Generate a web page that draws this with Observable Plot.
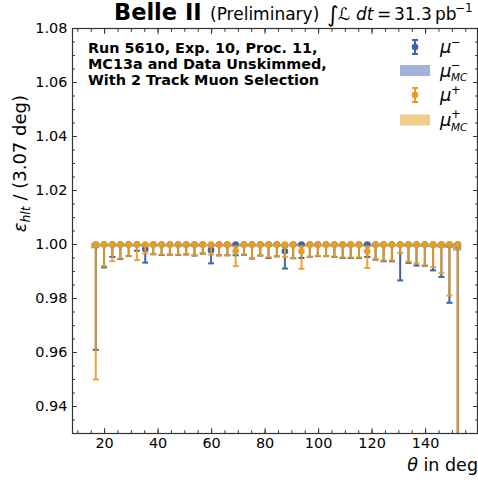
<!DOCTYPE html>
<html><head><meta charset="utf-8">
<script src="https://cdn.jsdelivr.net/npm/d3@7"></script>
<script src="https://cdn.jsdelivr.net/npm/@observablehq/plot@0.6"></script>
<style>
html,body{margin:0;padding:0;background:#fff;}
#chart{position:relative;width:478px;height:482px;overflow:hidden;}
</style></head><body><div id="chart"></div>
<script>
// bin centres (deg), bin width 3.07 deg
const theta = [16.7,19.8,22.9,25.9,29.0,32.1,35.2,38.2,41.3,44.4,47.5,50.5,53.6,56.7,59.8,62.8,65.9,69.0,72.1,75.1,78.2,81.3,84.4,87.4,90.5,93.6,96.7,99.7,102.8,105.9,109.0,112.0,115.1,118.2,121.3,124.3,127.4,130.5,133.6,136.6,139.7,142.8,145.9,148.9,152.0];
const binWidth = 3.07;

// mu- data: efficiency, lower and upper error-bar ends
const muMinus   = [1,1,1,1,1,1,0.9983,1,1,1, 1,1,1,1,0.9979,1,1,1,1,1, 1,1,1,0.9975,1,1,1,1,1,1, 1,1,1,1,1,1,1,1,1,1, 1,1,1,1,1];
const muMinusLo = [0.9610,0.9915,0.9954,0.9946,0.9957,0.9977,0.9933,0.9964,0.9961,0.9962, 0.9961,0.9963,0.9959,0.9966,0.9930,0.9960,0.9960,0.9960,0.9962,0.9948, 0.9959,0.9950,0.9956,0.9911,0.9949,0.9950,0.9954,0.9957,0.9957,0.9954, 0.9950,0.9950,0.9950,0.9954,0.9944,0.9938,0.9938,0.9867,0.9932,0.9922, 0.9921,0.9904,0.9880,0.9784,0.8500];
const muMinusHi = [1,1,1,1,1,1,0.9996,1,1,1, 1,1,1,1,0.9994,1,1,1,1,1, 1,1,1,0.9992,1,1,1,1,1,1, 1,1,1,1,1,1,1,1,1,1, 1,1,1,1,1];

// mu+ data
const muPlus   = [1,1,1,1,1,1,1,1,1,1, 1,1,1,1,1,1,1,0.9976,1,1, 1,1,1,1,1,0.9975,1,1,1,1, 1,1,1,0.9975,1,1,1,1,1,1, 1,1,1,1,1];
const muPlusLo = [0.9500,0.9920,0.9938,0.9948,0.9957,0.9942,0.9967,0.9964,0.9962,0.9963, 0.9962,0.9964,0.9961,0.9967,0.9963,0.9959,0.9960,0.9920,0.9963,0.9950, 0.9960,0.9953,0.9957,0.9954,0.9950,0.9910,0.9955,0.9958,0.9957,0.9955, 0.9952,0.9952,0.9952,0.9913,0.9946,0.9941,0.9941,0.9969,0.9936,0.9930, 0.9923,0.9916,0.9895,0.9811,0.8500];
const muPlusHi = [1,1,1,1,1,1,1,1,1,1, 1,1,1,1,1,1,1,0.9993,1,1, 1,1,1,1,1,0.9993,1,1,1,1, 1,1,1,0.9993,1,1,1,1,1,1, 1,1,1,1,1];

// MC efficiencies and uncertainties
const mcMinus    = [0.9993,0.9996,0.9996,0.9996,0.9996,0.9996,0.9996,0.9996,0.9996,0.9996, 0.9996,0.9996,0.9996,0.9996,0.9996,0.9996,0.9996,0.9996,0.9996,0.9996, 0.9996,0.9996,0.9996,0.9996,0.9996,0.9996,0.9996,0.9996,0.9996,0.9996, 0.9996,0.9996,0.9996,0.9996,0.9996,0.9996,0.9996,0.9996,0.9996,0.9996, 0.9995,0.9995,0.9994,0.9993,0.9989];
const mcMinusErr = [0.0009,0.0005,0.0005,0.0005,0.0005,0.0005,0.0005,0.0005,0.0005,0.0005, 0.0005,0.0005,0.0005,0.0005,0.0005,0.0005,0.0005,0.0005,0.0005,0.0005, 0.0005,0.0005,0.0005,0.0005,0.0005,0.0005,0.0005,0.0005,0.0005,0.0005, 0.0005,0.0005,0.0005,0.0005,0.0005,0.0005,0.0005,0.0005,0.0005,0.0005, 0.0006,0.0007,0.0007,0.0008,0.0014];
const mcPlus     = [0.9994,0.9996,0.9996,0.9996,0.9996,0.9996,0.9996,0.9996,0.9996,0.9996, 0.9996,0.9996,0.9996,0.9996,0.9996,0.9996,0.9996,0.9996,0.9996,0.9996, 0.9996,0.9996,0.9996,0.9996,0.9996,0.9996,0.9996,0.9996,0.9996,0.9996, 0.9996,0.9996,0.9996,0.9996,0.9996,0.9996,0.9996,0.9996,0.9996,0.9996, 0.9995,0.9995,0.9994,0.9993,0.9990];
const mcPlusErr  = [0.0009,0.0005,0.0005,0.0005,0.0005,0.0005,0.0005,0.0005,0.0005,0.0005, 0.0005,0.0005,0.0005,0.0005,0.0005,0.0005,0.0005,0.0005,0.0005,0.0005, 0.0005,0.0005,0.0005,0.0005,0.0005,0.0005,0.0005,0.0005,0.0005,0.0005, 0.0005,0.0005,0.0005,0.0005,0.0005,0.0005,0.0005,0.0005,0.0005,0.0005, 0.0006,0.0007,0.0007,0.0008,0.0013];

const xTicks = [20,40,60,80,100,120,140];
const yTicks = [0.94,0.96,0.98,1.00,1.02,1.04,1.06,1.08];
const annotation = ["Run 5610, Exp. 10, Proc. 11,", "MC13a and Data Unskimmed,", "With 2 Track Muon Selection"];

const blue = "#3f62ac", orange = "#e69d22", mcBlue = "#4a66b0", mcOrange = "#e39b1b";
const axisColor = "#333";
const FONT = "DejaVu Sans, sans-serif";

const rows = theta.map((t, i) => ({
  theta: t,
  mm: muMinus[i], mmLo: muMinusLo[i], mmHi: muMinusHi[i],
  mp: muPlus[i], mpLo: muPlusLo[i], mpHi: muPlusHi[i],
  mcm: mcMinus[i], mcmE: mcMinusErr[i],
  mcp: mcPlus[i], mcpE: mcPlusErr[i]
}));

const capSymbol = {draw(ctx, size) { const r = Math.sqrt(size / Math.PI); ctx.moveTo(-r, 0); ctx.lineTo(r, 0); }};
const minorX = d3.range(10, 160, 5);
const minorY = d3.range(0, 31).map(i => 0.93 + i * 0.005);
const noText = () => "";

function errBars(lo, hi, val, color, op) {
  return [
    Plot.ruleX(rows, {x: "theta", y1: lo, y2: hi, stroke: color, strokeWidth: 2, strokeOpacity: op, clip: true}),
    Plot.dot(rows, {x: "theta", y: lo, symbol: capSymbol, r: 3, stroke: color, strokeWidth: 2, strokeOpacity: op, fill: "none", clip: true}),
    Plot.dot(rows, {x: "theta", y: hi, symbol: capSymbol, r: 3, stroke: color, strokeWidth: 2, strokeOpacity: op, fill: "none", clip: true}),
    Plot.dot(rows, {x: "theta", y: val, r: 3.3, fill: color, stroke: "none", clip: true})
  ];
}

const plot = Plot.plot({
  width: 478, height: 482,
  marginLeft: 72, marginRight: 1, marginTop: 28, marginBottom: 49,
  style: {fontFamily: FONT, fontSize: "14.4px", background: "white", color: "#000"},
  x: {domain: [8, 159.4], axis: null},
  y: {domain: [0.93, 1.08], axis: null},
  marks: [
    Plot.rect(rows, {x1: d => d.theta - binWidth / 2, x2: d => d.theta + binWidth / 2, y1: d => d.mcm - d.mcmE, y2: d => d.mcm + d.mcmE, fill: mcBlue, fillOpacity: 0.5, clip: true}),
    Plot.rect(rows, {x1: d => d.theta - binWidth / 2, x2: d => d.theta + binWidth / 2, y1: d => d.mcp - d.mcpE, y2: d => d.mcp + d.mcpE, fill: mcOrange, fillOpacity: 0.5, clip: true}),
    ...errBars("mmLo", "mmHi", "mm", blue, 1),
    ...errBars("mpLo", "mpHi", "mp", orange, 0.9),
    Plot.frame({stroke: axisColor, strokeWidth: 1.2}),
    Plot.axisY(yTicks, {anchor: "left", tickSize: -4.9, tickPadding: 10, tickFormat: d3.format(".2f"), label: null, stroke: axisColor, fontSize: 14.4}),
    Plot.axisY(minorY, {anchor: "left", tickSize: -2.8, tickFormat: noText, label: null, stroke: axisColor}),
    Plot.axisY(yTicks, {anchor: "right", tickSize: -4.9, tickFormat: noText, label: null, stroke: axisColor}),
    Plot.axisY(minorY, {anchor: "right", tickSize: -2.8, tickFormat: noText, label: null, stroke: axisColor}),
    Plot.axisX(xTicks, {anchor: "bottom", tickSize: -4.9, tickPadding: 9, label: null, stroke: axisColor, fontSize: 14.4}),
    Plot.axisX(minorX, {anchor: "bottom", tickSize: -2.8, tickFormat: noText, label: null, stroke: axisColor}),
    Plot.axisX(xTicks, {anchor: "top", tickSize: -4.9, tickFormat: noText, label: null, stroke: axisColor}),
    Plot.axisX(minorX, {anchor: "top", tickSize: -2.8, tickFormat: noText, label: null, stroke: axisColor})
  ]
});
document.getElementById("chart").appendChild(plot);

// ---- text overlays (title, labels, annotation, legend) ----
const svg = d3.select(plot);
const g = svg.append("g").attr("font-family", FONT).attr("fill", "#000").attr("text-anchor", "start");

// Title
const title = g.append("text").attr("y", 20);
title.append("tspan").attr("x", 114).attr("font-weight", "bold").attr("font-size", 22.5).text("Belle II");
title.append("tspan").attr("x", 210).attr("font-size", 17).text("(Preliminary)");
title.append("tspan").attr("x", 327).attr("y", 22).attr("font-size", 22).text("∫");
title.append("tspan").attr("x", 338).attr("y", 20).attr("font-size", 17).attr("font-style", "italic").text("ℒ");
title.append("tspan").attr("x", 356).attr("font-size", 17).attr("font-style", "italic").text("dt");
title.append("tspan").attr("x", 377).attr("font-size", 17).text("=");
title.append("tspan").attr("x", 394).attr("font-size", 17).text("31.3");
title.append("tspan").attr("x", 435).attr("font-size", 17).text("pb");
title.append("tspan").attr("x", 455).attr("y", 12).attr("font-size", 12).text("−1");

// Annotation box
annotation.forEach((line, i) => {
  g.append("text").attr("x", 88).attr("y", 52.5 + i * 16.3).attr("font-size", 14.4).attr("font-weight", "bold").text(line);
});

// Axis labels
const yl = g.append("text").attr("transform", "translate(26,95) rotate(-90)").attr("text-anchor", "end").attr("font-size", 18);
yl.append("tspan").attr("font-style", "italic").text("ε");
yl.append("tspan").attr("font-style", "italic").attr("font-size", 12.5).attr("dy", 4).text("hlt");
yl.append("tspan").attr("dy", -4).text(" / (3.07 deg)");

const xl = g.append("text").attr("x", 478).attr("y", 471).attr("text-anchor", "end").attr("font-size", 17.5);
xl.append("tspan").attr("font-style", "italic").text("θ");
xl.append("tspan").text(" in deg");

// Legend
const legend = [
  {type: "err", color: blue, sign: "−", mc: false, y: 47},
  {type: "box", color: mcBlue, sign: "−", mc: true, y: 70.5},
  {type: "err", color: orange, sign: "+", mc: false, y: 95},
  {type: "box", color: mcOrange, sign: "+", mc: true, y: 120}
];
legend.forEach(d => {
  if (d.type === "err") {
    g.append("line").attr("x1", 415).attr("x2", 415).attr("y1", d.y - 7).attr("y2", d.y + 7).attr("stroke", d.color).attr("stroke-width", 2);
    g.append("line").attr("x1", 412).attr("x2", 418).attr("y1", d.y - 7).attr("y2", d.y - 7).attr("stroke", d.color).attr("stroke-width", 2);
    g.append("line").attr("x1", 412).attr("x2", 418).attr("y1", d.y + 7).attr("y2", d.y + 7).attr("stroke", d.color).attr("stroke-width", 2);
    g.append("circle").attr("cx", 415).attr("cy", d.y).attr("r", 3.3).attr("fill", d.color);
  } else {
    g.append("rect").attr("x", 400).attr("y", d.y - 5.5).attr("width", 30).attr("height", 11).attr("fill", d.color).attr("fill-opacity", 0.5);
  }
  g.append("text").attr("x", 440).attr("y", d.y + 6).attr("font-size", 18).attr("font-style", "italic").text("μ");
  g.append("text").attr("x", 451).attr("y", d.mc ? d.y - 2 : d.y - 1).attr("font-size", 11.5).text(d.sign);
  if (d.mc) g.append("text").attr("x", 451).attr("y", d.y + 10.5).attr("font-size", 10.5).attr("font-style", "italic").text("MC");
});
</script></body></html>
